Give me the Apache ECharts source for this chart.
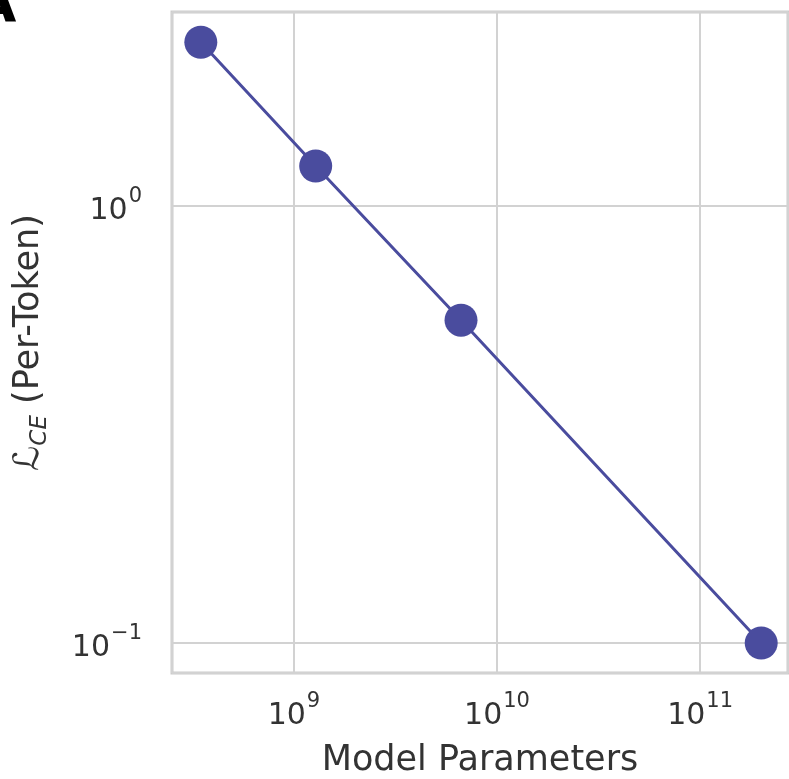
<!DOCTYPE html>
<html>
<head>
<meta charset="utf-8">
<script src="https://cdn.jsdelivr.net/npm/echarts@6/dist/echarts.min.js"></script>
<style>
  html, body { margin: 0; padding: 0; background: #ffffff; }
  #chart { width: 789px; height: 779px; }
</style>
</head>
<body>
<div id="chart"></div>
<script>
// model size vs per-token cross-entropy
const params = [3.48e8, 1.28e9, 6.65e9, 2.0e11];
const loss = [2.37, 1.235, 0.548, 0.1];
const xRange = [2.51e8, 2.71e11];
const yRange = [0.0854, 2.78];

const lineColor = '#4a4c9e';
const gridColor = '#d2d2d2';
const textColor = '#333333';
const font = 'DejaVu Sans';

function powLabel(v) {
  const exp = Math.round(Math.log10(v));
  return '{b|10}{s|' + (exp < 0 ? '\u2212' + (-exp) : exp) + '}';
}

const tickRich = {
  b: { fontFamily: font, fontSize: 30, color: textColor, lineHeight: 40, verticalAlign: 'bottom' },
  s: { fontFamily: font, fontSize: 21, color: textColor, lineHeight: 40, verticalAlign: 'top', padding: [0, 0, 0, 1] }
};

const chart = echarts.init(document.getElementById('chart'));
chart.setOption({
  animation: false,
  backgroundColor: '#ffffff',
  graphic: [
    {
      type: 'text',
      left: -27,
      top: -22,
      style: { text: 'A', fontFamily: font, fontSize: 56, fontWeight: 'bold', fill: '#000000' }
    }
  ],
  grid: {
    left: 172, right: 1, top: 12, bottom: 106,
    show: true,
    borderColor: '#cccccc',
    borderWidth: 3,
    containLabel: false,
    outerBoundsMode: 'none'
  },
  xAxis: {
    type: 'log',
    logBase: 10,
    min: xRange[0],
    max: xRange[1],
    name: 'Model Parameters',
    nameLocation: 'middle',
    nameGap: 70,
    nameTextStyle: { fontFamily: font, fontSize: 35, color: textColor },
    axisLine: { show: false },
    axisTick: { show: false },
    axisLabel: {
      margin: 18,
      showMinLabel: false,
      showMaxLabel: false,
      formatter: powLabel,
      rich: tickRich
    },
    splitLine: { show: true, lineStyle: { color: gridColor, width: 2 } }
  },
  yAxis: {
    type: 'log',
    logBase: 10,
    min: yRange[0],
    max: yRange[1],
    name: '{l|\u2112}{sub|CE} {t|(Per-Token)}',
    nameLocation: 'middle',
    nameGap: 126,
    nameRotate: 90,
    nameTextStyle: {
      fontFamily: font,
      fontSize: 35,
      color: textColor,
      rich: {
        l: { fontFamily: font, fontStyle: 'italic', fontSize: 35, color: textColor, lineHeight: 42, verticalAlign: 'bottom' },
        sub: { fontFamily: font, fontStyle: 'italic', fontSize: 23, color: textColor, lineHeight: 42, verticalAlign: 'bottom', padding: [0, 0, -6, 0] },
        t: { fontFamily: font, fontSize: 35, color: textColor, lineHeight: 42, verticalAlign: 'bottom' }
      }
    },
    axisLine: { show: false },
    axisTick: { show: false },
    axisLabel: {
      margin: 30,
      showMinLabel: false,
      showMaxLabel: false,
      formatter: powLabel,
      rich: tickRich
    },
    splitLine: { show: true, lineStyle: { color: gridColor, width: 2 } }
  },
  series: [
    {
      type: 'line',
      data: params.map((p, i) => [p, loss[i]]),
      symbol: 'circle',
      symbolSize: 33,
      lineStyle: { color: lineColor, width: 3 },
      itemStyle: { color: lineColor, borderWidth: 0 }
    }
  ]
});
</script>
</body>
</html>
